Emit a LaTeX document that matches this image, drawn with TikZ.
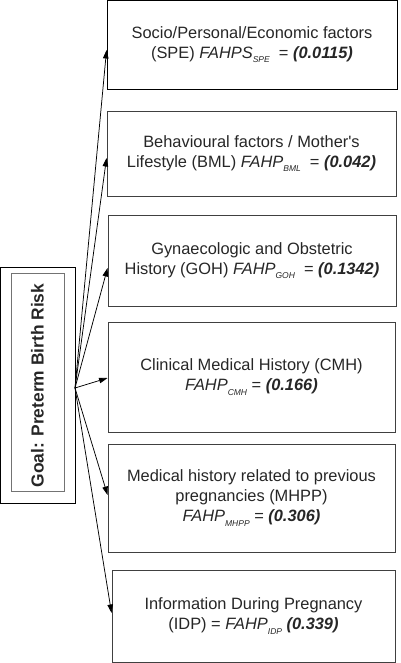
\documentclass[tikz,border=0pt]{standalone}
\usepackage{fontspec}
\setmainfont{Liberation Sans}
\usetikzlibrary{arrows.meta}
\newcommand{\sbx}[1]{\raisebox{-4.5bp}{\fontsize{8.5bp}{9bp}\selectfont\itshape #1}}
\begin{document}
\begin{tikzpicture}[x=1bp,y=-1bp,
  factorbox/.style={draw=black!75, line width=0.9bp, rectangle, inner sep=0pt,
     align=center, text=black!85, font=\fontsize{16.4bp}{20bp}\selectfont},
  link/.style={draw=black, line width=0.75bp, -{Triangle[length=8.5bp,width=5.5bp]}}]
\useasboundingbox (0,0) rectangle (400,663);
% goal boxes
\node[draw=black, line width=0.9bp, minimum width=74.5bp, minimum height=236bp, inner sep=0pt] (outer) at (37.75,385) {};
\node[draw=black!55, line width=0.9bp, minimum width=53bp, minimum height=218bp, inner sep=0pt] (inner) at (37.5,382) {};
\node[rotate=90, text=black!85, font=\fontsize{17.4bp}{20bp}\selectfont\bfseries] (goal) at (37.5,385.5) {Goal: Preterm Birth Risk};
\coordinate (src) at (75,388);
% factor boxes
\node[factorbox, draw=black, minimum width=290bp, minimum height=89bp] (b1) at (252,44.5)
  {Socio/Personal/Economic factors\\(SPE) \textit{FAHPS}\sbx{SPE}\ \ = \textbf{\textit{(0.0115)}}};
\node[factorbox, minimum width=289bp, minimum height=85bp] (b2) at (251.5,153.5)
  {Behavioural factors / Mother\textquotesingle s\\Lifestyle (BML) \textit{FAHP}\sbx{BML}\ \ = \textbf{\textit{(0.042)}}};
\node[factorbox, minimum width=288bp, minimum height=91bp] (b3) at (252,260.5)
  {Gynaecologic and Obstetric\\History (GOH) \textit{FAHP}\sbx{GOH}\ \ = \textbf{\textit{(0.1342)}}};
\node[factorbox, minimum width=287bp, minimum height=110bp] (b4) at (251.5,377)
  {Clinical Medical History (CMH)\\\textit{FAHP}\sbx{CMH} = \textbf{\textit{(0.166)}}};
\node[factorbox, minimum width=287bp, minimum height=108bp] (b5) at (251.5,498)
  {Medical history related to previous\\pregnancies (MHPP)\\\textit{FAHP}\sbx{MHPP} = \textbf{\textit{(0.306)}}};
\node[factorbox, minimum width=283bp, minimum height=92bp] (b6) at (253.5,616)
  {Information During Pregnancy\\(IDP) = \textit{FAHP}\sbx{IDP} \textbf{\textit{(0.339)}}};
% arrows
\draw[link] (src) -- ([yshift=-5.5bp]b1.west);
\draw[link] (src) -- ([yshift=-4.5bp]b2.west);
\draw[link] (src) -- ([yshift=-7.5bp]b3.west);
\draw[link] (src) -- ([yshift=-1bp]b4.west);
\draw[link] (src) -- ([yshift=3bp]b5.west);
\draw[link] (src) -- ([yshift=3bp]b6.west);
\end{tikzpicture}
\end{document}
